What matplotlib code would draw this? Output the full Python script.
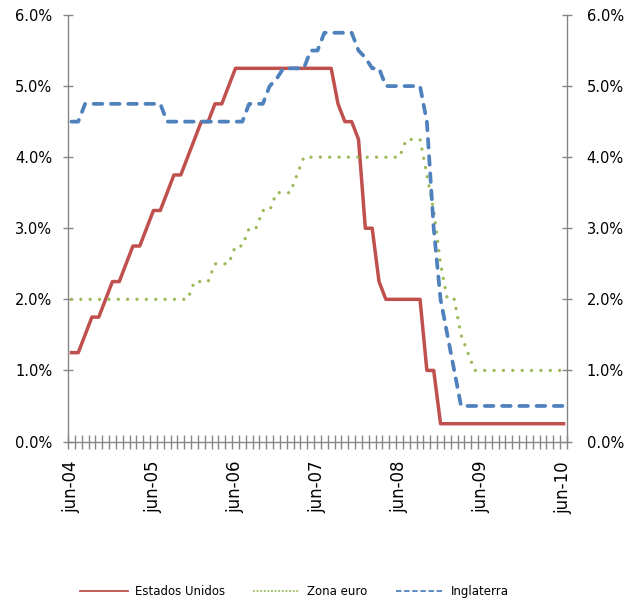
import matplotlib
matplotlib.use("Agg")
import matplotlib.pyplot as plt
from matplotlib.lines import Line2D
from matplotlib.ticker import FuncFormatter, FixedLocator

# monthly policy rates, jun-04 .. jun-10
months = ["jun-04", "jun-05", "jun-06", "jun-07", "jun-08", "jun-09", "jun-10"]

estados_unidos = [1.25, 1.25, 1.5, 1.75, 1.75, 2.0, 2.25, 2.25, 2.5, 2.75, 2.75, 3.0,
                  3.25, 3.25, 3.5, 3.75, 3.75, 4.0, 4.25, 4.5, 4.5, 4.75, 4.75, 5.0,
                  5.25, 5.25, 5.25, 5.25, 5.25, 5.25, 5.25, 5.25, 5.25, 5.25, 5.25, 5.25,
                  5.25, 5.25, 5.25, 4.75, 4.5, 4.5, 4.25, 3.0, 3.0, 2.25, 2.0, 2.0,
                  2.0, 2.0, 2.0, 2.0, 1.0, 1.0, 0.25, 0.25, 0.25, 0.25, 0.25, 0.25,
                  0.25, 0.25, 0.25, 0.25, 0.25, 0.25, 0.25, 0.25, 0.25, 0.25, 0.25, 0.25,
                  0.25]

zona_euro = [2.0, 2.0, 2.0, 2.0, 2.0, 2.0, 2.0, 2.0, 2.0, 2.0, 2.0, 2.0,
             2.0, 2.0, 2.0, 2.0, 2.0, 2.0, 2.25, 2.25, 2.25, 2.5, 2.5, 2.5,
             2.75, 2.75, 3.0, 3.0, 3.25, 3.25, 3.5, 3.5, 3.5, 3.75, 4.0, 4.0,
             4.0, 4.0, 4.0, 4.0, 4.0, 4.0, 4.0, 4.0, 4.0, 4.0, 4.0, 4.0,
             4.0, 4.25, 4.25, 4.25, 3.75, 3.25, 2.5, 2.0, 2.0, 1.5, 1.25, 1.0,
             1.0, 1.0, 1.0, 1.0, 1.0, 1.0, 1.0, 1.0, 1.0, 1.0, 1.0, 1.0,
             1.0]

inglaterra = [4.5, 4.5, 4.75, 4.75, 4.75, 4.75, 4.75, 4.75, 4.75, 4.75, 4.75, 4.75,
              4.75, 4.75, 4.5, 4.5, 4.5, 4.5, 4.5, 4.5, 4.5, 4.5, 4.5, 4.5,
              4.5, 4.5, 4.75, 4.75, 4.75, 5.0, 5.1, 5.25, 5.25, 5.25, 5.25, 5.5,
              5.5, 5.75, 5.75, 5.75, 5.75, 5.75, 5.5, 5.4, 5.25, 5.25, 5.0, 5.0,
              5.0, 5.0, 5.0, 5.0, 4.5, 3.0, 2.0, 1.5, 1.0, 0.5, 0.5, 0.5,
              0.5, 0.5, 0.5, 0.5, 0.5, 0.5, 0.5, 0.5, 0.5, 0.5, 0.5, 0.5,
              0.5]

RED = "#C0504D"
GREEN = "#9BBB59"
BLUE = "#4F81BD"
AXIS = "#868686"

x = list(range(len(estados_unidos)))

fig = plt.figure(figsize=(6.4, 6.0), dpi=100)
ax = fig.add_axes([68 / 640, 1 - 441.5 / 600, (567 - 68) / 640, (441.5 - 15) / 600])

ax.plot(x, estados_unidos, color=RED, lw=2.5, solid_joinstyle="round")
ax.plot(x, zona_euro, color=GREEN, lw=2.4, dashes=(0.01, 2.8), dash_capstyle="round")
ax.plot(x, inglaterra, color=BLUE, lw=2.7, dashes=(2.3, 2.3), dash_capstyle="round")

ax.set_xlim(-0.5, len(x) - 0.5)
ax.set_ylim(0, 6)
ax.set_yticks([0, 1, 2, 3, 4, 5, 6])
pct = FuncFormatter(lambda v, p: f"{v:.1f}%")
ax.yaxis.set_major_formatter(pct)

ax.set_xticks(list(range(0, len(x), 12)))
ax.set_xticklabels(months, rotation=90, fontsize=12)
ax.xaxis.set_minor_locator(FixedLocator([i - 0.5 for i in range(len(x) + 1)]))
ax.tick_params(axis="x", which="major", length=0, pad=14)
ax.tick_params(axis="x", which="minor", direction="inout", length=10, width=1, color=AXIS)
ax.tick_params(axis="y", direction="inout", length=6.5, width=1, color=AXIS,
               labelsize=10.5, pad=8)

ax2 = ax.twinx()
ax2.set_ylim(0, 6)
ax2.set_yticks([0, 1, 2, 3, 4, 5, 6])
ax2.yaxis.set_major_formatter(pct)
ax2.tick_params(axis="y", direction="inout", length=6.5, width=1, color=AXIS,
                labelsize=10.5, pad=11)

for a in (ax, ax2):
    a.spines["top"].set_visible(False)
    for s in ("left", "right", "bottom"):
        a.spines[s].set_color(AXIS)
        a.spines[s].set_linewidth(1)
ax.spines["right"].set_visible(False)
ax2.spines["left"].set_visible(False)
ax2.spines["bottom"].set_visible(False)

handles = [
    Line2D([], [], color=RED, lw=1.3),
    Line2D([], [], color=GREEN, lw=1.3, dashes=(1, 1)),
    Line2D([], [], color=BLUE, lw=1.3, dashes=(3, 1.5)),
]
fig.legend(handles, ["Estados Unidos", "Zona euro", "Inglaterra"], loc="lower center",
           bbox_to_anchor=(0.46, -0.015), ncol=3, frameon=False, fontsize=8.5,
           handlelength=4.0, handletextpad=0.6, columnspacing=2.4)

fig.savefig("out.png", dpi=100)
